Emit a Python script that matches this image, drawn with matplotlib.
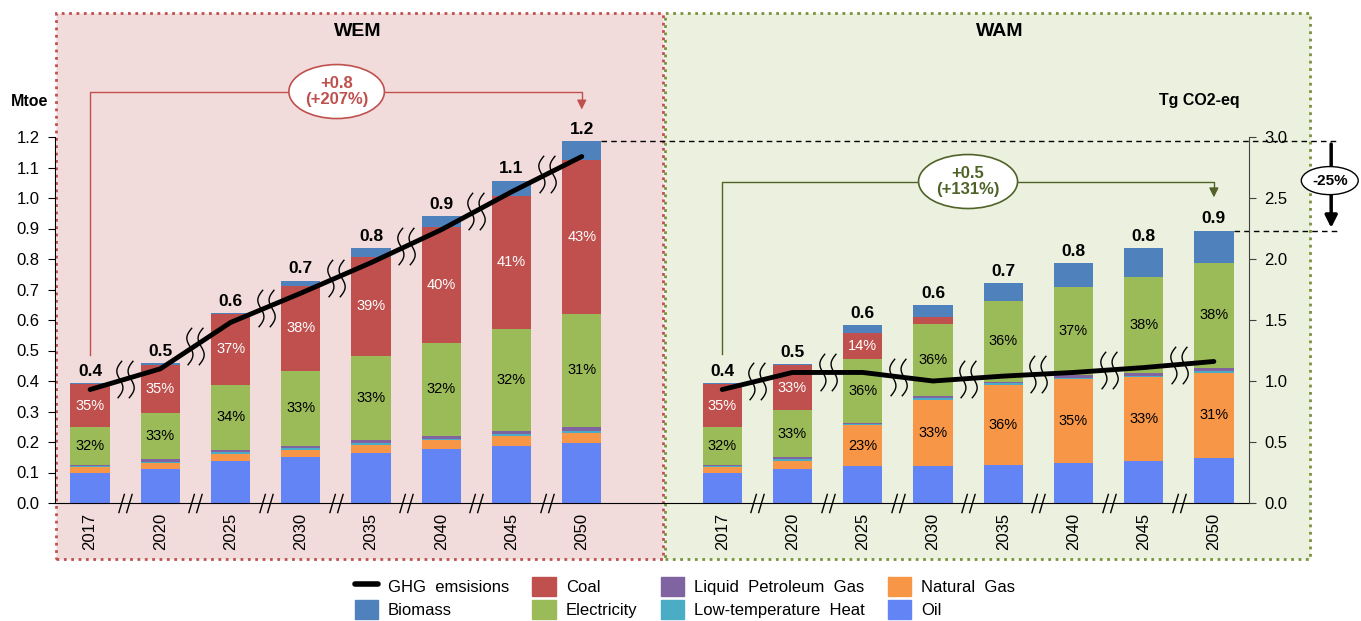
"""
Final energy demand by fuel (Mtoe) and GHG emissions, WEM vs WAM scenarios
"""
import matplotlib.pyplot as plt
import matplotlib.patches as patches
from matplotlib.lines import Line2D
from matplotlib.path import Path
import numpy as np

plt.rcParams['font.family'] = ['Liberation Sans', 'DejaVu Sans']

# ============= DATA =============
years = ['2017', '2020', '2025', '2030', '2035', '2040', '2045', '2050']
fuels = ['Oil', 'Natural Gas', 'Low-temperature  Heat', 'Liquid Petroleum  Gas',
         'Electricity', 'Coal', 'Biomass']

# WEM, Mtoe (bottom to top)
wem_oil = [0.099, 0.111, 0.139, 0.152, 0.165, 0.178, 0.188, 0.197]
wem_gas = [0.018, 0.019, 0.022, 0.023, 0.026, 0.028, 0.031, 0.032]
wem_heat = [0.003, 0.004, 0.005, 0.005, 0.005, 0.005, 0.006, 0.007]
wem_lpg = [0.005, 0.009, 0.009, 0.008, 0.010, 0.009, 0.012, 0.013]
wem_elec = [0.125, 0.152, 0.213, 0.245, 0.275, 0.306, 0.334, 0.371]
wem_coal = [0.139, 0.158, 0.231, 0.279, 0.327, 0.380, 0.437, 0.504]
wem_bio = [0.005, 0.006, 0.005, 0.017, 0.028, 0.036, 0.049, 0.062]

# WAM, Mtoe (bottom to top)
wam_oil = [0.099, 0.113, 0.122, 0.122, 0.126, 0.130, 0.139, 0.149]
wam_gas = [0.018, 0.025, 0.133, 0.216, 0.261, 0.276, 0.273, 0.278]
wam_heat = [0.003, 0.005, 0.004, 0.005, 0.005, 0.005, 0.006, 0.007]
wam_lpg = [0.005, 0.008, 0.004, 0.008, 0.006, 0.008, 0.009, 0.010]
wam_elec = [0.125, 0.153, 0.209, 0.236, 0.265, 0.288, 0.315, 0.344]
wam_coal = [0.139, 0.149, 0.084, 0.022, 0.0, 0.0, 0.0, 0.0]
wam_bio = [0.005, 0.003, 0.027, 0.040, 0.057, 0.079, 0.093, 0.105]

# GHG emissions, Tg CO2-eq
wem_ghg = [0.93, 1.10, 1.48, 1.72, 1.97, 2.24, 2.55, 2.84]
wam_ghg = [0.93, 1.07, 1.07, 1.00, 1.04, 1.07, 1.11, 1.16]

# share labels shown inside segments
wem_coal_pct = ['35%', '35%', '37%', '38%', '39%', '40%', '41%', '43%']
wem_elec_pct = ['32%', '33%', '34%', '33%', '33%', '32%', '32%', '31%']
wam_coal_pct = ['35%', '33%', '14%', None, None, None, None, None]
wam_elec_pct = ['32%', '33%', '36%', '36%', '36%', '37%', '38%', '38%']
wam_gas_pct = [None, None, '23%', '33%', '36%', '35%', '33%', '31%']

wem_change = '+0.8\n(+207%)'
wam_change = '+0.5\n(+131%)'
wam_vs_wem = '-25%'

colors = {
    'Oil': '#6384F5', 'Natural Gas': '#F79646', 'Low-temperature  Heat': '#4BACC6',
    'Liquid Petroleum  Gas': '#8064A2', 'Electricity': '#9BBB59',
    'Coal': '#C0504D', 'Biomass': '#4F81BD',
}
RED = '#C0504D'
GREEN = '#4F6228'

# ============= FIGURE =============
fig = plt.figure(figsize=(13.61, 6.21), dpi=100)
W, H = 1361, 621


def fx(px):
    return px / W


def fy(py):
    return 1 - py / H


# scenario panels
fig.patches.append(patches.Rectangle((fx(56), fy(559)), fx(663 - 56), (559 - 13) / H,
                                     transform=fig.transFigure, facecolor='#F2DCDB',
                                     edgecolor=RED, linestyle=':', linewidth=2, zorder=-10))
fig.patches.append(patches.Rectangle((fx(665), fy(559)), fx(1310 - 665), (559 - 13) / H,
                                     transform=fig.transFigure, facecolor='#EBF1DE',
                                     edgecolor='#77933C', linestyle=':', linewidth=2, zorder=-10))

ax = fig.add_axes([fx(55), fy(503), fx(1249 - 55), (503 - 137) / H])
ax.set_facecolor('none')
ax2 = ax.twinx()

x_wem = np.arange(8)
x_wam = np.arange(9, 17)
width = 0.56

groups = [
    (x_wem, [wem_oil, wem_gas, wem_heat, wem_lpg, wem_elec, wem_coal, wem_bio],
     {'Electricity': wem_elec_pct, 'Coal': wem_coal_pct}),
    (x_wam, [wam_oil, wam_gas, wam_heat, wam_lpg, wam_elec, wam_coal, wam_bio],
     {'Natural Gas': wam_gas_pct, 'Electricity': wam_elec_pct, 'Coal': wam_coal_pct}),
]

totals = []
for xs, stack, pct_labels in groups:
    bottom = np.zeros(len(xs))
    for fuel, vals in zip(fuels, stack):
        vals = np.array(vals)
        ax.bar(xs, vals, width, bottom=bottom, color=colors[fuel], linewidth=0, zorder=2)
        if fuel in pct_labels:
            for x, b, v, lab in zip(xs, bottom, vals, pct_labels[fuel]):
                if lab:
                    ax.text(x, b + v / 2, lab, ha='center', va='center', fontsize=10.5,
                            color='white' if fuel == 'Coal' else 'black', zorder=3)
        bottom = bottom + vals
    totals.append(bottom)
    for x, t in zip(xs, bottom):
        ax.annotate(f'{t:.1f}', (x, t), xytext=(0, 3), textcoords='offset points',
                    ha='center', va='bottom', fontsize=12.5, fontweight='bold')

wem_total, wam_total = totals

# axis break marks ("//") on the category axis
slash = Path([(-0.7, -1), (-0.1, 1), (0.1, -1), (0.7, 1)],
             [Path.MOVETO, Path.LINETO, Path.MOVETO, Path.LINETO])
breaks_x = np.concatenate([x_wem[:-1] + 0.5, x_wam[:-1] + 0.5])
ax.plot(breaks_x, np.zeros(len(breaks_x)), ls='none', marker=slash, markersize=14,
        markerfacecolor='none', markeredgecolor='black', markeredgewidth=1,
        clip_on=False, zorder=4)

# GHG emissions line with break marks
t = np.linspace(-1, 1, 25)
verts, codes = [], []
for dx in (-0.3, 0.3):
    xs_ = dx - 0.22 * np.sin(np.pi * t) + 0.12 * t
    verts += list(zip(xs_, t))
    codes += [Path.MOVETO] + [Path.LINETO] * (len(t) - 1)
wave = Path(verts, codes)

for xs, ghg in ((x_wem, wem_ghg), (x_wam, wam_ghg)):
    ax2.plot(xs, ghg, color='black', linewidth=3.5, solid_capstyle='round', zorder=3)
    mids = (np.array(ghg[:-1]) + np.array(ghg[1:])) / 2
    ax2.plot(xs[:-1] + 0.5, mids, ls='none', marker=wave, markersize=27,
             markerfacecolor='none', markeredgecolor='black', markeredgewidth=1, zorder=4)

# axes styling
ax.set_xlim(-0.5, 16.5)
ax.set_ylim(0, 1.2)
ax2.set_ylim(0, 3.0)
ax.set_yticks(np.arange(0, 1.21, 0.1))
ax.set_yticklabels([f'{v:.1f}' for v in np.arange(0, 1.21, 0.1)])
ax2.set_yticks(np.arange(0, 3.01, 0.5))
ax2.set_yticklabels([f'{v:.1f}' for v in np.arange(0, 3.01, 0.5)])
ax.set_xticks(np.concatenate([x_wem, x_wam]))
ax.set_xticklabels(years + years, rotation=90)
ax.tick_params(axis='x', length=0, pad=7, labelsize=12)
ax.tick_params(axis='y', direction='out', length=5, labelsize=12, pad=6)
ax2.tick_params(axis='y', direction='out', length=5, labelsize=12, pad=6,
                color='#404040')
for a in (ax, ax2):
    a.spines['top'].set_visible(False)
ax.spines['right'].set_visible(False)
ax2.spines['left'].set_visible(False)
ax2.spines['bottom'].set_visible(False)
ax2.spines['right'].set_color('#404040')

# ============= ANNOTATIONS =============
# WEM change bracket
top_wem = 1.349
ax.plot([x_wem[0], x_wem[0], x_wem[-1], x_wem[-1]],
        [wem_total[0] + 0.09, top_wem, top_wem, top_wem - 0.03],
        color=RED, linewidth=1, clip_on=False, zorder=5)
ax.annotate('', xy=(x_wem[-1], wem_total[-1] + 0.095), xytext=(x_wem[-1], top_wem - 0.02),
            arrowprops=dict(arrowstyle='-|>', color=RED, lw=1, mutation_scale=14),
            annotation_clip=False, zorder=5)
ax.add_patch(patches.Ellipse((3.51, top_wem), 1.36, 0.177, facecolor='white',
                             edgecolor=RED, linewidth=1.2, clip_on=False, zorder=6))
ax.text(3.51, top_wem, wem_change, ha='center', va='center', fontsize=12,
        fontweight='bold', color=RED, linespacing=1.1, zorder=7)

# WAM change bracket
top_wam = 1.054
ax.plot([x_wam[0], x_wam[0], x_wam[-1], x_wam[-1]],
        [wam_total[0] + 0.094, top_wam, top_wam, top_wam - 0.03],
        color=GREEN, linewidth=1, clip_on=False, zorder=5)
ax.annotate('', xy=(x_wam[-1], wam_total[-1] + 0.10), xytext=(x_wam[-1], top_wam - 0.02),
            arrowprops=dict(arrowstyle='-|>', color=GREEN, lw=1, mutation_scale=14),
            annotation_clip=False, zorder=5)
ax.add_patch(patches.Ellipse((12.5, top_wam), 1.41, 0.177, facecolor='white',
                             edgecolor=GREEN, linewidth=1.2, clip_on=False, zorder=6))
ax.text(12.5, top_wam, wam_change, ha='center', va='center', fontsize=12,
        fontweight='bold', color=GREEN, linespacing=1.1, zorder=7)

# WAM vs WEM in 2050
ax.plot([x_wem[-1] + width / 2, 17.76], [wem_total[-1]] * 2, color='black',
        linewidth=1, dashes=(4, 3), clip_on=False, zorder=5)
ax.plot([x_wam[-1] + width / 2, 17.76], [wam_total[-1]] * 2, color='black',
        linewidth=1, dashes=(4, 3), clip_on=False, zorder=5)
ax.annotate('', xy=(17.67, wam_total[-1]), xytext=(17.67, wem_total[-1]),
            arrowprops=dict(arrowstyle='-|>', color='black', lw=2.5, mutation_scale=18),
            annotation_clip=False, zorder=5)
ax.add_patch(patches.Ellipse((17.65, 1.057), 0.81, 0.092, facecolor='white',
                             edgecolor='black', linewidth=1, clip_on=False, zorder=6))
ax.text(17.65, 1.057, wam_vs_wem, ha='center', va='center', fontsize=11,
        fontweight='bold', zorder=7)

# titles and units
fig.text(fx(358), fy(32), 'WEM', ha='center', va='center', fontsize=14, fontweight='bold')
fig.text(fx(1000), fy(32), 'WAM', ha='center', va='center', fontsize=14, fontweight='bold')
fig.text(fx(30), fy(101), 'Mtoe', ha='center', va='center', fontsize=11.5, fontweight='bold')
fig.text(fx(1240), fy(101), 'Tg CO2-eq', ha='right', va='center', fontsize=11.5,
         fontweight='bold')

# legend
handles = [Line2D([], [], color='black', linewidth=4, solid_capstyle='round'),
           patches.Patch(color=colors['Biomass']),
           patches.Patch(color=colors['Coal']),
           patches.Patch(color=colors['Electricity']),
           patches.Patch(color=colors['Liquid Petroleum  Gas']),
           patches.Patch(color=colors['Low-temperature  Heat']),
           patches.Patch(color=colors['Natural Gas']),
           patches.Patch(color=colors['Oil'])]
labels = ['GHG  emsisions', 'Biomass', 'Coal', 'Electricity', 'Liquid  Petroleum  Gas',
          'Low-temperature  Heat', 'Natural  Gas', 'Oil']
fig.legend(handles, labels, loc='center', bbox_to_anchor=(fx(685), fy(598)), ncol=4,
           frameon=False, fontsize=12, handlelength=1.4, handleheight=1.4,
           handletextpad=0.6, columnspacing=1.4, labelspacing=0.25)

fig.savefig('out.png', dpi=100)
